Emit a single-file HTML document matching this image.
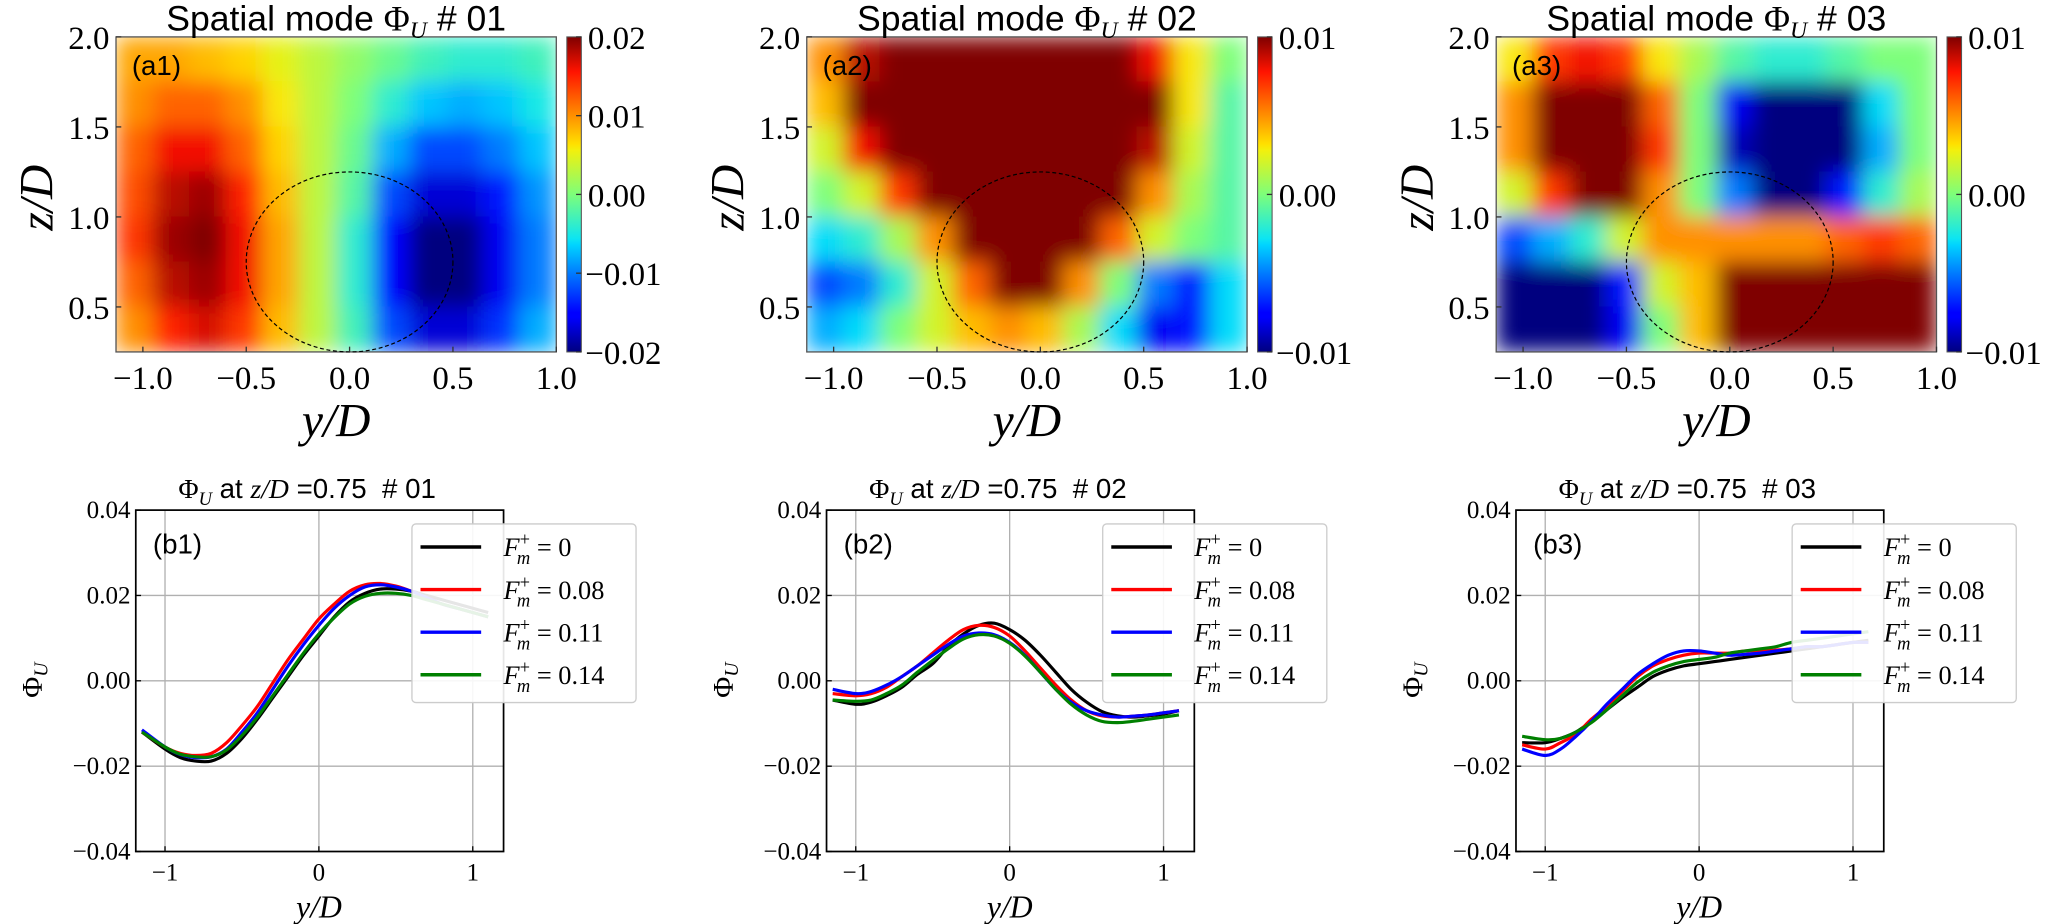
<!DOCTYPE html>
<html><head><meta charset="utf-8"><style>
html,body{margin:0;padding:0;background:#fff;}
svg{display:block;}
text{white-space:pre;}
</style></head><body>
<svg id="fig" xmlns="http://www.w3.org/2000/svg" width="2067" height="924" viewBox="0 0 1568 701" preserveAspectRatio="none">
<defs>
<linearGradient id="jet" x1="0" y1="1" x2="0" y2="0">
<stop offset="0" stop-color="#00007f"/><stop offset="0.11" stop-color="#0000ff"/><stop offset="0.125" stop-color="#0000ff"/>
<stop offset="0.34" stop-color="#00d4ff"/><stop offset="0.36" stop-color="#0de5f2"/><stop offset="0.5" stop-color="#7dff7a"/>
<stop offset="0.64" stop-color="#f2f00d"/><stop offset="0.66" stop-color="#ffe000"/><stop offset="0.89" stop-color="#ff1300"/>
<stop offset="1" stop-color="#7f0000"/></linearGradient>
<filter id="blur" x="0" y="0" width="1" height="1"><feGaussianBlur stdDeviation="8" edgeMode="duplicate"/></filter>
</defs>
</svg>
<script>
// ---------- data ----------
const heatCols = 12, heatRows = 7; // rows top (z=2.0) to bottom (z=0.25), cols y=-1.13..1.0
const heatA1 = [
[0.45,0.45,0.4,0.35,0.25,0.15,0.05,-0.05,-0.15,-0.2,-0.2,-0.15],
[0.5,0.6,0.6,0.5,0.3,0.15,0,-0.2,-0.35,-0.4,-0.35,-0.25],
[0.6,0.8,0.8,0.6,0.35,0.15,-0.05,-0.4,-0.6,-0.6,-0.5,-0.35],
[0.65,0.9,0.95,0.75,0.4,0.15,-0.1,-0.6,-0.85,-0.85,-0.7,-0.45],
[0.7,0.95,1,0.8,0.45,0.15,-0.2,-0.75,-1,-1,-0.8,-0.5],
[0.6,0.9,0.95,0.8,0.45,0.15,-0.2,-0.75,-1,-1,-0.8,-0.5],
[0.5,0.75,0.85,0.7,0.4,0.15,-0.15,-0.6,-0.85,-0.85,-0.65,-0.4]];
const heatA2 = [
[0.5,0.9,1,1,1,1,1,1,1,0.8,0.3,0],
[0.4,1,1,1,1,1,1,1,1,1,0.3,-0.1],
[0.2,0.8,1,1,1,1,1,1,1,0.9,0.2,-0.1],
[0,0.2,0.7,1,1,1,1,1,1,0.5,0.1,-0.1],
[-0.3,-0.2,0.1,0.5,1,1,1,1,0.6,0.2,0,-0.1],
[-0.6,-0.5,-0.2,0.2,0.6,1,1,0.5,0,-0.5,-0.7,-0.3],
[-0.4,-0.3,0,0.2,0.4,0.5,0.4,0.1,-0.3,-0.8,-0.7,-0.3]];
const heatA3 = [
[0.3,0.7,0.8,0.7,0.3,0.1,-0.1,-0.2,-0.2,-0.1,0,0],
[0.5,1,1,1,0.6,0,-0.8,-1,-1,-1,-0.3,0],
[0.5,1,1,1,0.7,0,-0.9,-1,-1,-1,-0.4,0],
[0.2,0.7,1,1,0.5,0,-0.5,-1,-1,-0.7,-0.2,0.1],
[-0.6,-0.4,-0.2,0.2,0.5,0.5,0.5,0.5,0.5,0.6,0.7,0.6],
[-1,-1,-1,-0.7,0.2,0.4,1,1,1,1,1,1],
[-1,-1,-1,-0.8,0,0.4,1,1,1,1,1,1]];
const cbarTicksA1 = ["0.02","0.01","0.00","\u22120.01","\u22120.02"];
const cbarTicksA23 = ["0.01","0.00","\u22120.01"];
const heatYTicks = [2.0,1.5,1.0,0.5];
const heatXTicks = [-1.0,-0.5,0.0,0.5,1.0];

const lineX = [-1.15,-1.0,-0.9,-0.8,-0.7,-0.6,-0.5,-0.4,-0.3,-0.2,-0.1,0,0.1,0.2,0.3,0.4,0.5,0.6,0.7,0.8,0.9,1.0,1.1];
const b1Black = [-0.012,-0.016,-0.018,-0.0188,-0.0188,-0.017,-0.0135,-0.009,-0.004,0.001,0.006,0.0105,0.015,0.0185,0.0205,0.0215,0.0215,0.021,0.020,0.019,0.018,0.017,0.016];
const b1Red = [-0.012,-0.0155,-0.017,-0.0175,-0.017,-0.0145,-0.0105,-0.006,-0.0005,0.005,0.0098,0.0145,0.018,0.021,0.0225,0.0228,0.0222,0.021,0.0195,0.018,0.017,0.016,0.015];
const b1Blue = [-0.0115,-0.0155,-0.0173,-0.018,-0.0178,-0.016,-0.012,-0.0075,-0.002,0.0035,0.0085,0.013,0.017,0.020,0.022,0.0225,0.022,0.021,0.0195,0.018,0.017,0.016,0.015];
const b1Green = [-0.012,-0.0155,-0.0172,-0.0178,-0.0178,-0.0162,-0.0128,-0.0085,-0.0035,0.0015,0.0065,0.011,0.0148,0.018,0.0198,0.0205,0.0205,0.020,0.019,0.018,0.017,0.016,0.015];
const b2Black = [-0.0045,-0.0055,-0.005,-0.0035,-0.0015,0.0015,0.004,0.008,0.011,0.013,0.0135,0.012,0.0095,0.006,0.002,-0.002,-0.005,-0.0072,-0.0082,-0.0085,-0.0082,-0.0078,-0.007];
const b2Red = [-0.003,-0.0035,-0.003,-0.0015,0.001,0.0035,0.0065,0.0095,0.012,0.013,0.0125,0.0105,0.007,0.003,-0.001,-0.0045,-0.007,-0.0082,-0.0085,-0.0083,-0.008,-0.0075,-0.007];
const b2Blue = [-0.002,-0.003,-0.0025,-0.001,0.001,0.0035,0.006,0.0085,0.0105,0.0112,0.0108,0.009,0.006,0.002,-0.002,-0.005,-0.007,-0.008,-0.0085,-0.0083,-0.008,-0.0075,-0.007];
const b2Green = [-0.0045,-0.0048,-0.0045,-0.003,-0.001,0.002,0.0048,0.0075,0.0098,0.0108,0.0105,0.0088,0.0058,0.002,-0.002,-0.0055,-0.008,-0.0095,-0.0098,-0.0095,-0.009,-0.0085,-0.008];
const b3Black = [-0.0145,-0.0145,-0.0135,-0.012,-0.0095,-0.0068,-0.004,-0.0015,0.001,0.0025,0.0035,0.004,0.0045,0.005,0.0055,0.006,0.0065,0.007,0.0075,0.008,0.0085,0.009,0.0095];
const b3Red = [-0.015,-0.016,-0.0145,-0.0125,-0.009,-0.006,-0.0025,0.001,0.0035,0.005,0.006,0.0065,0.0065,0.0065,0.007,0.007,0.0072,0.0075,0.008,0.008,0.0085,0.009,0.009];
const b3Blue = [-0.016,-0.0175,-0.016,-0.013,-0.0095,-0.0055,-0.002,0.0015,0.004,0.006,0.007,0.007,0.0065,0.006,0.0062,0.0065,0.007,0.0075,0.008,0.008,0.0085,0.009,0.009];
const b3Green = [-0.013,-0.0138,-0.0135,-0.012,-0.0098,-0.0068,-0.0035,-0.0003,0.002,0.0035,0.0045,0.005,0.0055,0.0065,0.007,0.0075,0.008,0.009,0.0095,0.010,0.0105,0.011,0.0115];
const legendLabels = ["0","0.08","0.11","0.14"];
const lineYTicks = [0.04,0.02,0,-0.02,-0.04];
const lineYTickLabels = ["0.04","0.02","0.00","\u22120.02","\u22120.04"];
const lineXTicks = [-1,0,1];
const lineXTickLabels = ["\u22121","0","1"];

// ---------- helpers ----------
const NS = "http://www.w3.org/2000/svg";
const svg = document.getElementById('fig');
function mk(tag, attrs, parent){const e=document.createElementNS(NS,tag);for(const k in attrs)e.setAttribute(k,attrs[k]);(parent||svg).appendChild(e);return e;}
const SERIF = '"Liberation Serif", serif', SANS = '"Liberation Sans", sans-serif';
const jetStops=[[0,[0,0,127]],[0.11,[0,0,255]],[0.125,[0,0,255]],[0.34,[0,212,255]],[0.36,[13,229,242]],[0.5,[125,255,122]],[0.64,[242,240,13]],[0.66,[255,224,0]],[0.89,[255,19,0]],[1,[127,0,0]]];
function jet(v){let t=Math.max(0,Math.min(1,(v+1)/2));for(let i=1;i<jetStops.length;i++){if(t<=jetStops[i][0]){const a=jetStops[i-1],b=jetStops[i];const f=(t-a[0])/((b[0]-a[0])||1);const c=a[1].map((x,k)=>Math.round(x+(b[1][k]-x)*f));return `rgb(${c[0]},${c[1]},${c[2]})`;}}return 'rgb(127,0,0)';}
function smoothPath(pts){let d=`M${pts[0][0]},${pts[0][1]}`;for(let i=0;i<pts.length-1;i++){const p0=pts[i-1]||pts[i],p1=pts[i],p2=pts[i+1],p3=pts[i+2]||p2;d+=` C${p1[0]+(p2[0]-p0[0])/6},${p1[1]+(p2[1]-p0[1])/6} ${p2[0]-(p3[0]-p1[0])/6},${p2[1]-(p3[1]-p1[1])/6} ${p2[0]},${p2[1]}`;}return d;}

// ---------- heatmap panels ----------
const heatData=[heatA1,heatA2,heatA3];
const offsets=[0,524,1047];
for(let p=0;p<3;p++){
  const dx=offsets[p];
  const g=mk('g',{transform:`translate(${dx},0)`});
  
  
  const sx=v=>88+(v+1.13)/2.13*334, sz=z=>267-(z-0.25)/1.75*239;
  const cp=mk('clipPath',{id:'hc'+p},g); mk('rect',{x:88,y:28,width:334,height:239},cp);
  const outer=mk('g',{'clip-path':`url(#hc${p})`},g);
  const cells=mk('g',{filter:'url(#blur)'},outer);
  const data=heatData[p];
  for(let r=0;r<heatRows;r++)for(let c=0;c<heatCols;c++){
    const x0=sx(-1.13+c*2.13/heatCols), x1=sx(-1.13+(c+1)*2.13/heatCols);
    const y0=sz(2.0-r*0.25), y1=sz(2.0-(r+1)*0.25);
    const cell=mk('rect',{x:x0-0.3,y:y0-0.3,width:x1-x0+0.6,height:y1-y0+0.6,fill:jet(data[r][c])},cells);
    
    
  }
  const frame=mk('rect',{x:88,y:28,width:334,height:239,fill:'none',stroke:'#555','stroke-width':1},g);
  
  
  const circ=mk('ellipse',{cx:sx(0),cy:sz(0.75),rx:sx(0.5)-sx(0),ry:sz(0.25)-sz(0.75),fill:'none',stroke:'#000','stroke-width':0.9,'stroke-dasharray':'3,2'},g);
  
  
  heatYTicks.forEach(z=>{
    mk('line',{x1:88,x2:92,y1:sz(z),y2:sz(z),stroke:'#333'},g);
    const t=mk('text',{x:83,y:sz(z)+9,'text-anchor':'end','font-family':SERIF,'font-size':25},g);t.textContent=z.toFixed(1);
    
    
  });
  heatXTicks.forEach(v=>{
    mk('line',{x1:sx(v),x2:sx(v),y1:267,y2:263,stroke:'#333'},g);
    const t=mk('text',{x:sx(v),y:295,'text-anchor':'middle','font-family':SERIF,'font-size':25},g);t.textContent=(v<0?'\u2212':'')+Math.abs(v).toFixed(1);
    
    
  });
  const xl=mk('text',{x:255,y:331,'text-anchor':'middle','font-family':SERIF,'font-size':36,'font-style':'italic'},g);xl.textContent='y/D';
  
  
  const yl=mk('text',{x:0,y:0,'text-anchor':'middle','font-family':SERIF,'font-size':36,'font-style':'italic',transform:'translate(40,150) rotate(-90)'},g);yl.textContent='z/D';
  
  
  const tl=mk('text',{x:255,y:23,'text-anchor':'middle','font-family':SANS,'font-size':27},g);
  tl.innerHTML=`Spatial mode <tspan font-family='"Liberation Serif",serif'>Φ</tspan><tspan font-family='"Liberation Serif",serif' font-style="italic" font-size="18" dy="6">U</tspan><tspan dy="-6"> # 0${p+1}</tspan>`;
  
  
  const lab=mk('text',{x:100,y:57,'font-family':SANS,'font-size':21},g);lab.textContent=`(a${p+1})`;
  
  
  const cb=mk('rect',{x:430,y:28,width:11,height:239,fill:'url(#jet)',stroke:'#555','stroke-width':0.8},g);
  
  
  const ticks=p===0?cbarTicksA1:cbarTicksA23;
  ticks.forEach((s,i)=>{
    const y=28+i*239/(ticks.length-1);
    mk('line',{x1:437,x2:441,y1:y,y2:y,stroke:'#333'},g);
    const t=mk('text',{x:s[0]==='\u2212'?444:446,y:y+9,'font-family':SERIF,'font-size':25},g);t.textContent=s;
    
    
  });
}

// ---------- line panels ----------
const lineSets=[[b1Black,b1Red,b1Blue,b1Green],[b2Black,b2Red,b2Blue,b2Green],[b3Black,b3Red,b3Blue,b3Green]];
const colors=['#000','#ff0000','#0000ff','#008000'];
const colorNames=['black','red','blue','green'];
for(let p=0;p<3;p++){
  const dx=offsets[p];
  const g=mk('g',{transform:`translate(${dx},0)`});
  
  
  const L=103,R=382,T=387,B=646;
  const sx=v=>L+(v+1.19)/2.39*(R-L), sy=v=>(T+B)/2-v/0.04*(B-T)/2;
  lineXTicks.forEach((v,i)=>{
    mk('line',{x1:sx(v),x2:sx(v),y1:T,y2:B,stroke:'#b0b0b0','stroke-width':1},g);
    mk('line',{x1:sx(v),x2:sx(v),y1:B,y2:B-4,stroke:'#000'},g);
    const t=mk('text',{x:sx(v),y:B+22,'text-anchor':'middle','font-family':SERIF,'font-size':19},g);t.textContent=lineXTickLabels[i];
    
    
  });
  lineYTicks.forEach((v,i)=>{
    mk('line',{x1:L,x2:R,y1:sy(v),y2:sy(v),stroke:'#b0b0b0','stroke-width':1},g);
    mk('line',{x1:L,x2:L+4,y1:sy(v),y2:sy(v),stroke:'#000'},g);
    const t=mk('text',{x:L-4,y:sy(v)+6,'text-anchor':'end','font-family':SERIF,'font-size':19},g);t.textContent=lineYTickLabels[i];
    
    
  });
  const cp=mk('clipPath',{id:'lc'+p},g); mk('rect',{x:L,y:T,width:R-L,height:B-T},cp);
  const lg=mk('g',{'clip-path':`url(#lc${p})`},g);
  lineSets[p].forEach((arr,k)=>{
    const pts=lineX.map((x,i)=>[sx(x),sy(arr[i])]);
    const path=mk('path',{d:smoothPath(pts),fill:'none',stroke:colors[k],'stroke-width':2.4},lg);
    
    
  });
  const fr=mk('rect',{x:L,y:T,width:R-L,height:B-T,fill:'none',stroke:'#000','stroke-width':1.3},g);
  
  
  const lab=mk('text',{x:116,y:420,'font-family':SANS,'font-size':21},g);lab.textContent=`(b${p+1})`;
  
  
  const tl=mk('text',{x:233,y:378,'text-anchor':'middle','font-family':SANS,'font-size':21},g);
  tl.innerHTML=`<tspan font-family='"Liberation Serif",serif'>Φ</tspan><tspan font-family='"Liberation Serif",serif' font-style="italic" font-size="14" dy="5">U</tspan><tspan dy="-5"> at </tspan><tspan font-family='"Liberation Serif",serif' font-style="italic">z/D</tspan><tspan> =0.75  # 0${p+1}</tspan>`;
  
  
  const xl=mk('text',{x:242,y:696,'text-anchor':'middle','font-family':SERIF,'font-size':24,'font-style':'italic'},g);xl.textContent='y/D';
  
  
  const yl=mk('text',{x:0,y:0,'text-anchor':'middle','font-family':SERIF,'font-size':22,transform:'translate(32,516) rotate(-90)'},g);
  yl.innerHTML=`Φ<tspan font-style="italic" font-size="15" dy="4">U</tspan>`;
  
  
  const leg=mk('g',{},g);
  
  
  mk('rect',{x:312.5,y:397.5,width:170,height:135.5,rx:3,fill:'#fff','fill-opacity':0.9,stroke:'#cccccc','stroke-width':1},leg);
  legendLabels.forEach((s,k)=>{
    const y=415+k*32.3;
    const e=mk('g',{},leg);
    
    
    mk('line',{x1:319,x2:365,y1:y,y2:y,stroke:colors[k],'stroke-width':2.6},e);
    const t=mk('text',{x:382,y:y+7,'font-family':SERIF,'font-size':20},e);
    t.innerHTML=`<tspan font-style="italic">F</tspan><tspan font-size="14" dy="-8">+</tspan><tspan font-size="14" font-style="italic" dx="-10" dy="14">m</tspan><tspan dy="-6"> = ${s}</tspan>`;
  });
}
</script>
</body></html>
